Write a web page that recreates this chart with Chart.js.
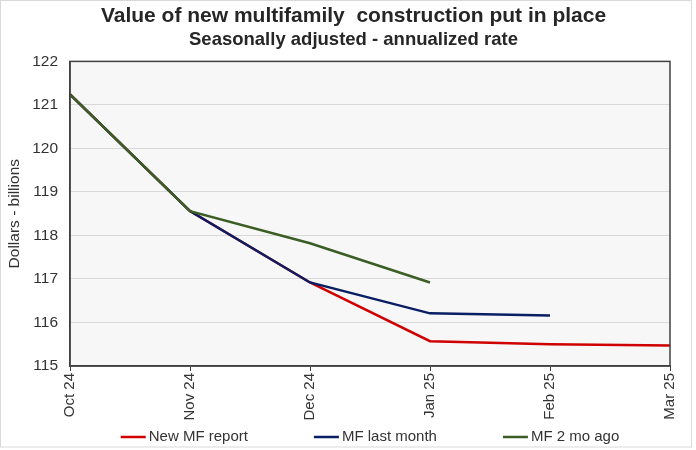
<!DOCTYPE html>
<html>
<head>
<meta charset="utf-8">
<script src="https://cdn.jsdelivr.net/npm/chart.js@4.4.1/dist/chart.umd.min.js"></script>
<style>
  html, body { margin: 0; padding: 0; background: #ffffff; }
  #wrap { width: 696px; height: 450px; position: relative; }
</style>
</head>
<body>
<div id="wrap"><canvas id="c" width="696" height="450"></canvas></div>
<script>
// ---- Data ----
const categories = ["Oct 24", "Nov 24", "Dec 24", "Jan 25", "Feb 25", "Mar 25"];
const newMFReport = [121.24, 118.56, 116.92, 115.57, 115.50, 115.47];
const mfLastMonth = [121.24, 118.56, 116.92, 116.21, 116.16, null];
const mf2MoAgo = [121.24, 118.56, 117.82, 116.92, null, null];
const seriesLabels = ["New MF report", "MF last month", "MF 2 mo ago"];
const seriesColors = ["#D00000", "#0A1F63", "#3B5E25"];
const yTicks = [115, 116, 117, 118, 119, 120, 121, 122];

const FONT = "'Liberation Sans', Arial, sans-serif";

const frameAndBg = {
  id: 'frameAndBg',
  beforeDraw(chart) {
    const ctx = chart.ctx;
    const a = chart.chartArea;
    ctx.save();
    ctx.fillStyle = '#ffffff';
    ctx.fillRect(0, 0, chart.width, chart.height);
    ctx.strokeStyle = '#d9d9d9';
    ctx.lineWidth = 1;
    ctx.strokeRect(0.5, 0.5, 691, 446.5);
    ctx.fillStyle = '#f7f7f7';
    ctx.fillRect(a.left, a.top, a.right - a.left, a.bottom - a.top);
    ctx.restore();
  },
  afterDraw(chart) {
    const ctx = chart.ctx;
    const a = chart.chartArea;
    ctx.save();
    ctx.strokeStyle = '#404040';
    ctx.lineWidth = 1.5;
    ctx.strokeRect(a.left, a.top, a.right - a.left, a.bottom - a.top);
    // custom legend drawn from dataset labels/colors
    ctx.font = "15px " + FONT;
    ctx.textBaseline = 'middle';
    const ds = chart.data.datasets;
    const lineW = 25, textGap = 3, itemGap = 66;
    const widths = ds.map(d => lineW + textGap + ctx.measureText(d.label).width);
    const total = widths.reduce((s, w) => s + w, 0) + itemGap * (ds.length - 1);
    let x = (a.left + a.right) / 2 - total / 2;
    const y = 437;
    ds.forEach((d, i) => {
      ctx.strokeStyle = d.borderColor;
      ctx.lineWidth = 2.5;
      ctx.beginPath();
      ctx.moveTo(x, y);
      ctx.lineTo(x + lineW, y);
      ctx.stroke();
      ctx.fillStyle = '#333333';
      ctx.textAlign = 'left';
      ctx.fillText(d.label, x + lineW + textGap, y);
      x += widths[i] + itemGap;
    });
    ctx.restore();
  }
};

new Chart(document.getElementById('c'), {
  type: 'line',
  data: {
    labels: categories,
    datasets: [
      { label: seriesLabels[0], data: newMFReport, borderColor: seriesColors[0], backgroundColor: seriesColors[0], borderWidth: 2.5, pointRadius: 0, tension: 0, order: 3 },
      { label: seriesLabels[1], data: mfLastMonth, borderColor: seriesColors[1], backgroundColor: seriesColors[1], borderWidth: 2.5, pointRadius: 0, tension: 0, order: 2 },
      { label: seriesLabels[2], data: mf2MoAgo, borderColor: seriesColors[2], backgroundColor: seriesColors[2], borderWidth: 2.5, pointRadius: 0, tension: 0, order: 1 }
    ]
  },
  options: {
    responsive: false,
    animation: false,
    devicePixelRatio: 1,
    layout: { padding: { top: 4, left: 11, right: 0, bottom: 0 } },
    plugins: {
      legend: { display: false },
      tooltip: { enabled: false },
      title: {
        display: true,
        text: 'Value of new multifamily  construction put in place',
        color: '#262626',
        font: { family: FONT, size: 21, weight: 'bold' },
        padding: { top: 0, bottom: 0 }
      },
      subtitle: {
        display: true,
        text: 'Seasonally adjusted - annualized rate',
        color: '#262626',
        font: { family: FONT, size: 18.5, weight: 'bold' },
        padding: { top: 0, bottom: 10 }
      }
    },
    scales: {
      x: {
        type: 'category',
        offset: false,
        grid: { display: true, drawOnChartArea: false, drawTicks: true, tickLength: 5, color: '#404040', lineWidth: 1 },
        border: { display: true, color: '#404040', width: 1.5 },
        ticks: {
          minRotation: 90, maxRotation: 90, autoSkip: false, padding: 2,
          color: '#333333', font: { family: FONT, size: 15 }
        },
        afterFit(scale) { scale.height = 450 - 366; }
      },
      y: {
        position: 'left',
        min: 115, max: 122,
        afterBuildTicks(scale) { scale.ticks = yTicks.map(v => ({ value: v })); },
        grid: { color: '#d9d9d9', lineWidth: 1, drawTicks: false },
        border: { display: true, color: '#404040', width: 1.5 },
        ticks: { padding: 12, color: '#333333', font: { family: FONT, size: 15.5 } },
        title: {
          display: true, text: 'Dollars - billions', color: '#333333',
          font: { family: FONT, size: 15.5 }, padding: { top: -6, bottom: 0 }
        },
        afterFit(scale) { scale.width = 59; }
      },
      yRight: {
        position: 'right',
        min: 115, max: 122,
        grid: { display: false, drawOnChartArea: false, drawTicks: false },
        border: { display: false },
        ticks: { display: false },
        afterFit(scale) { scale.width = 26; }
      }
    }
  },
  plugins: [frameAndBg]
});
</script>
</body>
</html>
